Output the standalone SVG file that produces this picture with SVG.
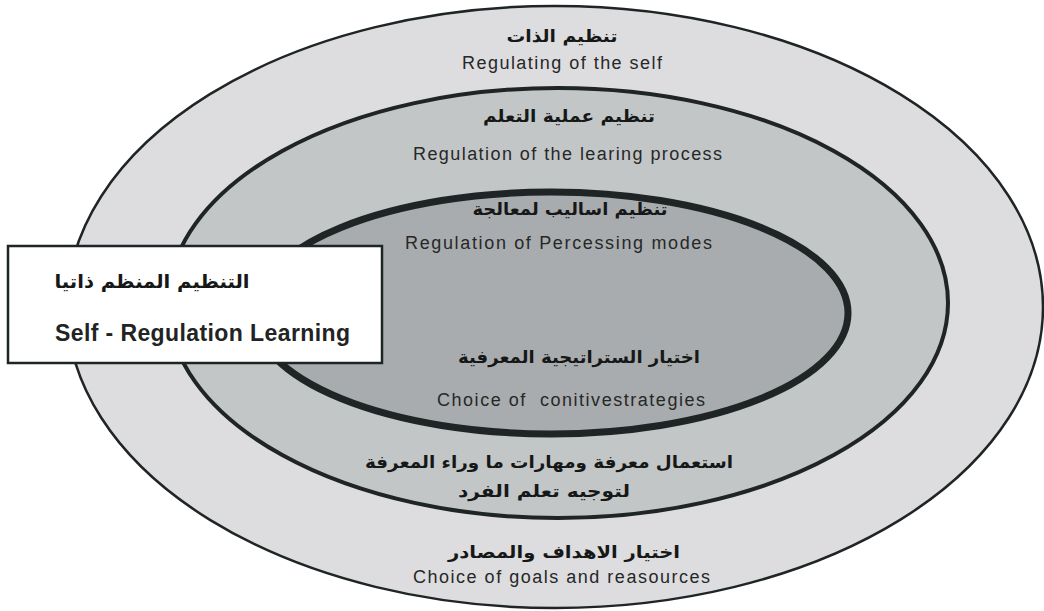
<svg xmlns="http://www.w3.org/2000/svg" width="1044" height="611" viewBox="0 0 1044 611">
  <style>
    .ring { stroke: #1f2424; }
    .en { font-family: "Liberation Sans", Arial, sans-serif; fill: #262828; text-anchor: middle; font-size: 18px; }
    .ar { font-family: "DejaVu Sans", "Noto Sans", sans-serif; fill: #161818; text-anchor: middle; font-weight: bold; font-size: 17px; }
  </style>
  <rect width="1044" height="611" fill="#ffffff"/>

  <!-- outer ring: regulating the self -->
  <g id="ring-self">
    <ellipse class="ring" cx="555" cy="307" rx="488" ry="301" fill="#dddddf" stroke-width="2.5"/>
    <text class="ar" x="562" y="42" textLength="111" lengthAdjust="spacingAndGlyphs">تنظيم الذات</text>
    <text class="en" x="562" y="69" textLength="200" lengthAdjust="spacing">Regulating of the self</text>
    <text class="ar" x="564" y="558" textLength="232" lengthAdjust="spacingAndGlyphs">اختيار الاهداف والمصادر</text>
    <text class="en" x="561.5" y="583" textLength="297" lengthAdjust="spacing">Choice of goals and reasources</text>
  </g>

  <!-- middle ring: regulating the learning process -->
  <g id="ring-process">
    <ellipse class="ring" cx="558" cy="303" rx="390" ry="215" fill="#c3c6c7" stroke-width="4"/>
    <text class="ar" x="569" y="122" textLength="172" lengthAdjust="spacingAndGlyphs">تنظيم عملية التعلم</text>
    <text class="en" x="567.5" y="160" textLength="309" lengthAdjust="spacing">Regulation of the learing process</text>
    <text class="ar" x="549" y="468" textLength="368" lengthAdjust="spacingAndGlyphs">استعمال معرفة ومهارات ما وراء المعرفة</text>
    <text class="ar" x="544" y="497" textLength="172" lengthAdjust="spacingAndGlyphs">لتوجيه تعلم الفرد</text>
  </g>

  <!-- inner ring: regulating processing modes -->
  <g id="ring-modes">
    <ellipse class="ring" cx="551" cy="313" rx="297" ry="121" fill="#a9acae" stroke-width="7"/>
    <text class="ar" x="570" y="215" textLength="195" lengthAdjust="spacingAndGlyphs">تنظيم اساليب لمعالجة</text>
    <text class="en" x="558.5" y="249" textLength="307" lengthAdjust="spacing">Regulation of Percessing modes</text>
    <text class="ar" x="579" y="363" textLength="242" lengthAdjust="spacingAndGlyphs">اختيار الستراتيجية المعرفية</text>
    <text class="en" x="571" y="406" textLength="268" lengthAdjust="spacing" xml:space="preserve">Choice of  conitivestrategies</text>
  </g>

  <!-- title box -->
  <g id="title-box">
    <rect x="8" y="246" width="374" height="117" fill="#ffffff" stroke="#1f2424" stroke-width="2.5"/>
    <text class="ar" x="152" y="288" font-size="19" textLength="195" lengthAdjust="spacingAndGlyphs" style="font-size:19px">التنظيم المنظم ذاتيا</text>
    <text x="55" y="341" font-family="'Liberation Sans', Arial, sans-serif" font-weight="bold" font-size="23" fill="#222424" textLength="295" lengthAdjust="spacing">Self - Regulation Learning</text>
  </g>

  <g id="connectors"/>
</svg>
